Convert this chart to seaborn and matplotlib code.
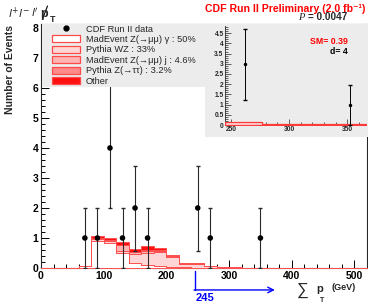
import numpy as np
import pandas as pd
import matplotlib
matplotlib.use("Agg")
import matplotlib.pyplot as plt
import matplotlib.transforms as mtransforms
import seaborn as sns
from matplotlib.patches import Rectangle, Patch
from matplotlib.lines import Line2D
from matplotlib.ticker import MultipleLocator

# --- veriler ---
bin_edges = list(range(0, 540, 20))          # 0 .. 520 GeV, 20 GeV bins
bin_centers = [e + 10 for e in bin_edges[:-1]]

zgamma  = [0, 0, 0, 0.06, 0.90, 0.84, 0.50, 0.15, 0.10, 0.05, 0.03, 0.02, 0.01,
           0.01, 0.005, 0.005, 0, 0, 0, 0, 0, 0, 0, 0, 0, 0]
wz      = [0, 0, 0, 0.01, 0.06, 0.06, 0.08, 0.32, 0.40, 0.48, 0.33, 0.11, 0.12,
           0.05, 0.02, 0.01, 0.01, 0.005, 0.005, 0, 0, 0, 0, 0, 0, 0]
zjet    = [0, 0, 0, 0.005, 0.03, 0.03, 0.18, 0.05, 0.06, 0.05, 0.02, 0.01, 0.01,
           0.01, 0, 0, 0, 0, 0, 0, 0, 0, 0, 0, 0, 0]
ztautau = [0, 0, 0, 0, 0.01, 0.01, 0.02, 0.02, 0.03, 0.02, 0.01, 0.01, 0.01,
           0.005, 0, 0, 0, 0, 0, 0, 0, 0, 0, 0, 0, 0]
other   = [0, 0, 0, 0.005, 0.05, 0.06, 0.10, 0.08, 0.15, 0.07, 0.03, 0.01, 0.01,
           0.005, 0.005, 0.005, 0, 0, 0, 0, 0, 0, 0, 0, 0, 0]

proc_labels = ["MadEvent Z(\u2192\u03bc\u03bc) \u03b3 : 50%", "Pythia WZ : 33%",
               "MadEvent Z(\u2192\u03bc\u03bc) j : 4.6%", "Pythia Z(\u2192\u03c4\u03c4) : 3.2%",
               "Other"]
proc_colors = ["#ffffff", "#ffd6d6", "#ffb4b4", "#ff8a8a", "#ff1010"]

data_x = [70, 90, 110, 130, 150, 170, 250, 270, 350]
data_n = [1, 1, 4, 1, 2, 1, 2, 1, 1]
data_lo = [1, 1, 2, 1, 1.45, 1, 1.45, 1, 1]
data_hi = [1, 1, 2.3, 1, 1.4, 1, 1.4, 1, 1]

# inset (sum pT > 245)
inset_edges = [245, 277, 340, 366]
inset_bkg = [0.13, 0.04, 0.03]
inset_x = [262, 352]
inset_n = [3, 1]
inset_lo = [1.78, 1.0]
inset_hi = [1.69, 0.96]

p_cut = 245
sm_expect = 0.39
n_obs = 4
p_value = "0.0047"

sns.set_style("ticks")
plt.rcParams["font.family"] = ["Liberation Sans", "DejaVu Sans"]

W, H = 368, 305
fig = plt.figure(figsize=(W / 100, H / 100), dpi=100)

def fx(px):
    return px / W

def fy(py):
    return 1 - py / H

ax = fig.add_axes([fx(41), fy(268), fx(367) - fx(41), fy(24) - fy(268)])
ax.set_zorder(0)

rows = []
for lab, vals in zip(proc_labels, [zgamma, wz, zjet, ztautau, other]):
    for c, v in zip(bin_centers, vals):
        rows.append({"sumpt": c, "n": v, "proc": lab})
df = pd.DataFrame(rows)

pal = dict(zip(proc_labels, proc_colors))
sns.histplot(data=df, x="sumpt", weights="n", hue="proc",
             hue_order=proc_labels[::-1], multiple="stack", bins=bin_edges,
             element="step", fill=True, alpha=1, palette=pal,
             edgecolor="#ff5050", linewidth=0.7, legend=False, zorder=3,
             ax=ax)

ax.errorbar(data_x, data_n, yerr=[data_lo, data_hi], fmt="none",
            ecolor="#2a2a2a", elinewidth=0.8, capsize=1.3, zorder=5)
sns.scatterplot(x=data_x, y=data_n, color="black", s=16, edgecolor="none",
                zorder=6, ax=ax)

ax.set_xlim(0, 520)
ax.set_ylim(0, 8.13)
ax.set_xlabel("")
ax.set_ylabel("")
ax.xaxis.set_major_locator(MultipleLocator(100))
ax.xaxis.set_minor_locator(MultipleLocator(20))
ax.yaxis.set_major_locator(MultipleLocator(1))
ax.yaxis.set_minor_locator(MultipleLocator(0.2))
ax.tick_params(which="both", direction="in", top=False, right=False,
               width=0.7, colors="black")
ax.tick_params(which="major", length=6, labelsize=7.5, pad=2)
ax.tick_params(which="minor", length=3)
for t in ax.get_xticklabels() + ax.get_yticklabels():
    t.set_fontweight("bold")
for s in ax.spines.values():
    s.set_linewidth(0.8)

# cut arrow below the axis
trans = mtransforms.blended_transform_factory(ax.transData, ax.transAxes)
ax.plot([p_cut, p_cut], [-0.012, -0.09], color="blue", lw=1.0,
        transform=trans, clip_on=False)
ax.annotate("", xy=(373, -0.09), xytext=(p_cut - 0.8, -0.09),
            xycoords=trans, textcoords=trans,
            arrowprops=dict(arrowstyle="->", color="blue", lw=1.0,
                            shrinkA=0, shrinkB=0))
fig.text(fx(196), fy(298), str(p_cut), color="blue", fontsize=8,
         fontweight="bold", ha="left", va="center")

# gray boxes (legend + inset panel)
fig.add_artist(Rectangle((fx(42), fy(87)), fx(205) - fx(42), fy(24) - fy(87),
                         transform=fig.transFigure, facecolor="#ececec",
                         edgecolor="none", zorder=1))
fig.add_artist(Rectangle((fx(205), fy(137)), fx(368) - fx(205), fy(24) - fy(137),
                         transform=fig.transFigure, facecolor="#ececec",
                         edgecolor="none", zorder=1))

handles = [Line2D([], [], marker="o", ls="none", color="black", markersize=3.5)]
for lab, col in zip(proc_labels, proc_colors):
    handles.append(Patch(facecolor=col, edgecolor="#ff4a4a", linewidth=0.9))
labels = ["CDF Run II data"] + proc_labels
fig.legend(handles, labels, loc="upper left",
           bbox_to_anchor=(fx(52), fy(24.5)), bbox_transform=fig.transFigure,
           frameon=False, fontsize=6.7, handlelength=3.0, handleheight=0.75,
           handletextpad=0.6, labelspacing=0.16, borderpad=0,
           borderaxespad=0)

# inset
axi = fig.add_axes([fx(225), fy(125), fx(366) - fx(225), fy(26) - fy(125)])
axi.set_zorder(2)
axi.set_facecolor("#ececec")
sns.histplot(x=[(a + b) / 2 for a, b in zip(inset_edges[:-1], inset_edges[1:])],
             weights=inset_bkg, bins=inset_edges, element="step", fill=True,
             alpha=1, color="#ffd6d6", edgecolor="#ff3a3a", linewidth=0.9,
             zorder=3, ax=axi)
axi.errorbar(inset_x, inset_n, yerr=[inset_lo, inset_hi], fmt="o",
             color="black", ms=1.5, elinewidth=0.7, capsize=1.2, zorder=4)
axi.set_xlim(245, 366)
axi.set_ylim(0, 4.85)
axi.set_xlabel("")
axi.set_ylabel("")
axi.xaxis.set_major_locator(MultipleLocator(50))
axi.xaxis.set_minor_locator(MultipleLocator(10))
axi.yaxis.set_major_locator(MultipleLocator(0.5))
axi.yaxis.set_minor_locator(MultipleLocator(0.1))
axi.set_yticks([0, 0.5, 1, 1.5, 2, 2.5, 3, 3.5, 4, 4.5])
axi.set_yticklabels(["0", "0.5", "1", "1.5", "2", "2.5", "3", "3.5", "4", "4.5"])
axi.tick_params(which="both", direction="in", top=False, right=False,
                width=0.5)
axi.tick_params(which="major", length=4, labelsize=4.8, pad=1)
axi.tick_params(which="minor", length=2)
for t in axi.get_xticklabels() + axi.get_yticklabels():
    t.set_fontweight("bold")
for s in axi.spines.values():
    s.set_linewidth(0.6)
axi.spines["top"].set_visible(False)
axi.spines["right"].set_visible(False)
axi.text(0.87, 0.84, f"SM= {sm_expect}", transform=axi.transAxes, color="red",
         fontsize=6.3, fontweight="bold", ha="right", va="center")
axi.text(0.87, 0.745, f"d= {n_obs}", transform=axi.transAxes, color="black",
         fontsize=6.3, fontweight="bold", ha="right", va="center")

# texts
fig.text(fx(8), fy(13), r"$l^{+}l^{-}$", fontsize=8, ha="left", va="center")
fig.text(fx(31), fy(13), r"$l'$", fontsize=8, ha="left", va="center")
fig.text(fx(40), fy(14), "p", fontsize=9, fontweight="bold", ha="left",
         va="center")
fig.add_artist(Line2D([fx(42.5), fx(47.5)], [fy(19), fy(6)], color="black",
                      lw=0.8, transform=fig.transFigure))
fig.text(fx(50), fy(19), "T", fontsize=6.5, fontweight="bold", ha="left",
         va="center")

fig.text(fx(365), fy(8.5), "CDF Run II Preliminary (2.0 fb\u207b\u00b9)",
         color="red", fontsize=7.6, fontweight="bold", ha="right",
         va="center")
fig.text(fx(304), fy(17.5), "P", fontsize=7.5, style="italic",
         family="Liberation Serif", ha="right", va="center")
fig.text(fx(308), fy(17.5), "= " + p_value, fontsize=7.2, fontweight="bold",
         ha="left", va="center")

fig.text(fx(10), fy(70), "Number of Events", rotation=90, fontsize=7.5,
         fontweight="bold", ha="center", va="center")
fig.text(fx(303), fy(290), "\u2211", fontsize=12, ha="center", va="center")
fig.text(fx(316), fy(289), "p", fontsize=8, fontweight="bold", ha="left",
         va="center")
fig.text(fx(320), fy(301), "T", fontsize=5, fontweight="bold", ha="left",
         va="center")
fig.text(fx(332), fy(288), "(GeV)", fontsize=6.5, fontweight="bold",
         ha="left", va="center")

fig.savefig("out.png", dpi=100)
